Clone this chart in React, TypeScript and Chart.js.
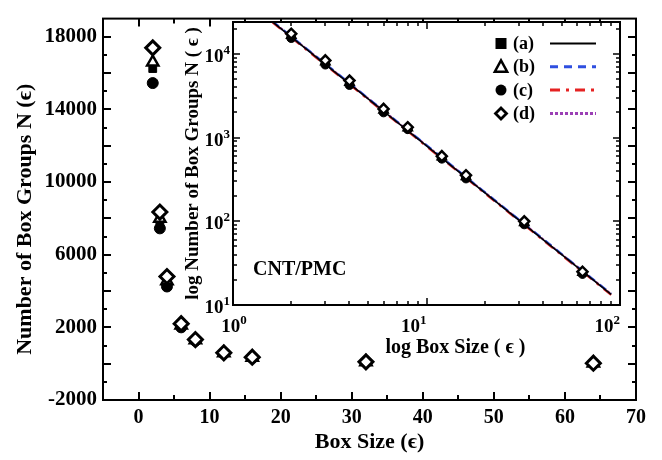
import React, { useEffect, useRef } from "react";
import { Chart, registerables } from "chart.js";

Chart.register(...registerables);

const FONT = '"Liberation Serif", "Times New Roman", "DejaVu Serif", serif';

// Box sizes (ε)
const boxSizes = [2, 3, 4, 6, 8, 12, 16, 32, 64];
// Number of box groups N(ε) for the four samples
const seriesA = [16250, 7800, 4400, 2050, 1280, 570, 330, 94, 24];
const seriesB = [16600, 8000, 4550, 2120, 1300, 585, 340, 96, 24.5];
const seriesC = [15450, 7450, 4250, 2000, 1260, 560, 325, 92, 23.5];
const seriesD = [17390, 8350, 4800, 2200, 1330, 600, 355, 100, 25];

// Fitted power-law lines in the inset (end points)
const fitX = [1.6, 90];
const fitA = [24100, 13.4];
const fitB = [24500, 13.6];
const fitC = [23700, 13.2];
const fitD = [24300, 13.5];

// Tick labels
const mainXLabels = [0, 10, 20, 30, 40, 50, 60, 70];
const mainYLabels = [-2000, 2000, 6000, 10000, 14000, 18000];
const insetXExp = [0, 1, 2];
const insetYExp = [1, 2, 3, 4];

const legendLabels = ["(a)", "(b)", "(c)", "(d)"];
const legendMarkers = ["rect", "triangle", "circle", "rectRot"];
const fitColors = ["#000000", "#2f4fe0", "#e52222", "#9b3fb5"];
const fitDashes: number[][] = [[], [8, 6], [10, 6, 3, 6], [3, 2]];

const pts = (ys: number[]) => boxSizes.map((x, i) => ({ x, y: ys[i] }));
const linePts = (ys: number[]) => fitX.map((x, i) => ({ x, y: ys[i] }));

function drawMarker(ctx: CanvasRenderingContext2D, style: string, x: number, y: number, r: number) {
  ctx.save();
  ctx.strokeStyle = "#000";
  ctx.fillStyle = "#000";
  ctx.beginPath();
  if (style === "rect") {
    ctx.rect(x - r, y - r, 2 * r, 2 * r);
    ctx.fill();
  } else if (style === "circle") {
    ctx.arc(x, y, r, 0, Math.PI * 2);
    ctx.fill();
  } else if (style === "triangle") {
    ctx.lineWidth = 2.5;
    ctx.moveTo(x, y - r);
    ctx.lineTo(x + r * 0.95, y + r * 0.75);
    ctx.lineTo(x - r * 0.95, y + r * 0.75);
    ctx.closePath();
    ctx.fillStyle = "#fff";
    ctx.fill();
    ctx.stroke();
  } else {
    ctx.lineWidth = 2.8;
    ctx.moveTo(x, y - r);
    ctx.lineTo(x + r, y);
    ctx.lineTo(x, y + r);
    ctx.lineTo(x - r, y);
    ctx.closePath();
    ctx.fillStyle = "#fff";
    ctx.fill();
    ctx.stroke();
  }
  ctx.restore();
}

const mainFrame = {
  id: "mainFrame",
  afterDraw(chart: any) {
    const { ctx, chartArea: a, scales } = chart;
    const xs = scales.x;
    const ys = scales.y;
    ctx.save();
    ctx.strokeStyle = "#000";
    ctx.lineWidth = 2;
    ctx.strokeRect(a.left, a.top, a.right - a.left, a.bottom - a.top);
    ctx.beginPath();
    for (let v = 0; v < 70; v += 5) {
      const px = Math.round(xs.getPixelForValue(v));
      const len = v % 10 === 0 ? 8 : 5;
      ctx.moveTo(px, a.bottom);
      ctx.lineTo(px, a.bottom - len);
      ctx.moveTo(px, a.top);
      ctx.lineTo(px, a.top + len);
    }
    for (let v = -1000; v < 19000; v += 1000) {
      const py = Math.round(ys.getPixelForValue(v));
      const len = v % 2000 === 0 ? 8 : 4;
      ctx.moveTo(a.left, py);
      ctx.lineTo(a.left + len, py);
      ctx.moveTo(a.right, py);
      ctx.lineTo(a.right - len, py);
    }
    ctx.stroke();

    // y-axis title (sits a little below the axis centre in the original)
    ctx.translate(25, (a.top + a.bottom) / 2 + 10);
    ctx.rotate(-Math.PI / 2);
    ctx.fillStyle = "#000";
    ctx.font = `bold 22px ${FONT}`;
    ctx.textAlign = "center";
    ctx.textBaseline = "middle";
    ctx.fillText("Number of Box Groups N (ϵ)", 0, 0);
    ctx.restore();
  },
};

function drawPow(ctx: CanvasRenderingContext2D, x: number, y: number, exp: number, align: string) {
  ctx.font = `bold 19px ${FONT}`;
  const wb = ctx.measureText("10").width;
  ctx.font = `bold 13px ${FONT}`;
  const ws = ctx.measureText(String(exp)).width;
  const total = wb + ws;
  const x0 = align === "right" ? x - total : x - total / 2;
  ctx.textAlign = "left";
  ctx.textBaseline = "alphabetic";
  ctx.fillStyle = "#000";
  ctx.font = `bold 19px ${FONT}`;
  ctx.fillText("10", x0, y);
  ctx.font = `bold 13px ${FONT}`;
  ctx.fillText(String(exp), x0 + wb, y - 8);
}

const insetDeco = {
  id: "insetDeco",
  beforeDatasetsDraw(chart: any) {
    const { ctx, chartArea: a } = chart;
    ctx.save();
    ctx.fillStyle = "#fff";
    ctx.fillRect(a.left, a.top, a.right - a.left, a.bottom - a.top);
    ctx.restore();
  },
  afterDraw(chart: any) {
    const { ctx, chartArea: a, scales } = chart;
    const xs = scales.x;
    const ys = scales.y;
    ctx.save();
    ctx.strokeStyle = "#000";
    ctx.lineWidth = 2;
    ctx.strokeRect(a.left, a.top, a.right - a.left, a.bottom - a.top);
    ctx.lineWidth = 1.5;
    ctx.beginPath();
    for (let d = 0; d <= 1; d++) {
      for (let m = 1; m <= 9; m++) {
        const v = m * Math.pow(10, d);
        if (v <= 1) continue;
        const px = Math.round(xs.getPixelForValue(v));
        const len = m === 1 ? 7 : 4;
        ctx.moveTo(px, a.bottom);
        ctx.lineTo(px, a.bottom - len);
        ctx.moveTo(px, a.top);
        ctx.lineTo(px, a.top + len);
      }
    }
    for (let d = 1; d <= 4; d++) {
      for (let m = 1; m <= 9; m++) {
        const v = m * Math.pow(10, d);
        if (v <= 10 || v >= ys.max) continue;
        const py = Math.round(ys.getPixelForValue(v));
        const len = m === 1 ? 7 : 4;
        ctx.moveTo(a.left, py);
        ctx.lineTo(a.left + len, py);
        ctx.moveTo(a.right, py);
        ctx.lineTo(a.right - len, py);
      }
    }
    ctx.stroke();

    // tick labels (powers of ten)
    insetYExp.forEach((e) => {
      const py = ys.getPixelForValue(Math.pow(10, e));
      drawPow(ctx, a.left - 3, py + 8, e, "right");
    });
    insetXExp.forEach((e, i) => {
      const px = xs.getPixelForValue(Math.pow(10, e));
      drawPow(ctx, i === 0 ? px + 1 : px, a.bottom + 27, e, i === 0 ? "center" : "right");
    });

    // x-axis title (placed right of centre, as in the original)
    ctx.fillStyle = "#000";
    ctx.font = `bold 20px ${FONT}`;
    ctx.textAlign = "center";
    ctx.textBaseline = "middle";
    ctx.fillText("log Box Size ( ϵ )", (a.left + a.right) / 2 + 29, a.bottom + 43);

    // legend
    const lx = a.right - 119;
    legendLabels.forEach((lab, i) => {
      const y = a.top + 21.5 + i * 23.3;
      drawMarker(ctx, legendMarkers[i], lx, y, legendMarkers[i] === "rectRot" ? 5.5 : legendMarkers[i] === "triangle" ? 6.5 : 5.5);
      ctx.fillStyle = "#000";
      ctx.font = `bold 18px ${FONT}`;
      ctx.textAlign = "left";
      ctx.textBaseline = "middle";
      ctx.fillText(lab, lx + 12, y + 1);
      ctx.save();
      ctx.strokeStyle = fitColors[i];
      ctx.lineWidth = i === 0 ? 2 : 3;
      ctx.setLineDash(fitDashes[i]);
      ctx.beginPath();
      ctx.moveTo(a.right - 70, y);
      ctx.lineTo(a.right - 24, y);
      ctx.stroke();
      ctx.restore();
    });

    // annotation
    ctx.fillStyle = "#000";
    ctx.font = `bold 20px ${FONT}`;
    ctx.textAlign = "left";
    ctx.textBaseline = "middle";
    ctx.fillText("CNT/PMC", a.left + 20, a.bottom - 35);
    ctx.restore();
  },
};

export default function App() {
  const mainRef = useRef<HTMLCanvasElement>(null);
  const insetRef = useRef<HTMLCanvasElement>(null);

  useEffect(() => {
    const tickFont = { family: FONT, size: 20, weight: "bold" as const };
    const mk = (label: string, ys: number[], style: string, r: number, bg: string, bw: number, order: number) => ({
      label,
      data: pts(ys),
      pointStyle: style,
      pointRadius: r,
      backgroundColor: bg,
      borderColor: "#000",
      borderWidth: bw,
      order,
    });

    const main = new Chart(mainRef.current as HTMLCanvasElement, {
      type: "scatter",
      data: {
        datasets: [
          mk("(d)", seriesD, "rectRot", 7, "#fff", 3, 0),
          mk("(b)", seriesB, "triangle", 6.5, "#fff", 2.5, 1),
          mk("(a)", seriesA, "rect", 5.5, "#000", 1, 2),
          mk("(c)", seriesC, "circle", 5.5, "#000", 1, 3),
        ] as any,
      },
      options: {
        animation: false,
        responsive: false,
        events: [],
        layout: { padding: { left: 8, right: 26, top: 5, bottom: 0 } },
        plugins: { legend: { display: false }, tooltip: { enabled: false } },
        scales: {
          x: {
            type: "linear",
            min: -5,
            max: 70,
            grid: { display: false, drawTicks: false },
            border: { display: false },
            afterBuildTicks: (s: any) => {
              s.ticks = mainXLabels.map((v) => ({ value: v }));
            },
            ticks: {
              autoSkip: false,
              maxRotation: 0,
              padding: 6,
              color: "#000",
              font: tickFont,
              callback: (v: any) => String(v),
            },
            title: { display: true, text: "Box Size (ϵ)", color: "#000", font: { family: FONT, size: 22, weight: "bold" } },
            afterFit: (s: any) => {
              s.height = 60;
            },
          },
          y: {
            type: "linear",
            min: -2000,
            max: 19000,
            grid: { display: false, drawTicks: false },
            border: { display: false },
            afterBuildTicks: (s: any) => {
              s.ticks = mainYLabels.map((v) => ({ value: v }));
            },
            ticks: {
              autoSkip: false,
              padding: 6,
              color: "#000",
              font: { family: FONT, size: 21, weight: "bold" },
              callback: (v: any) => String(v),
            },
            title: { display: false },
            afterFit: (s: any) => {
              s.width = 95;
            },
          },
        },
      } as any,
      plugins: [mainFrame],
    });

    const fitLine = (label: string, ys: number[], color: string, dash: number[], order: number, width: number) => ({
      label,
      data: linePts(ys),
      showLine: true,
      borderColor: color,
      borderWidth: width,
      borderDash: dash,
      pointRadius: 0,
      fill: false,
      order,
    });

    const inset = new Chart(insetRef.current as HTMLCanvasElement, {
      type: "scatter",
      data: {
        datasets: [
          mk("(d)", seriesD, "rectRot", 5, "#fff", 2.5, 0),
          mk("(b)", seriesB, "triangle", 5, "#fff", 2, 1),
          mk("(a)", seriesA, "rect", 4.5, "#000", 1, 2),
          mk("(c)", seriesC, "circle", 4.5, "#000", 1, 3),
          fitLine("fit (a)", fitA, fitColors[0], fitDashes[0], 4, 1.6),
          fitLine("fit (b)", fitB, fitColors[1], fitDashes[1], 5, 2.2),
          fitLine("fit (c)", fitC, fitColors[2], fitDashes[2], 6, 2.2),
          fitLine("fit (d)", fitD, fitColors[3], fitDashes[3], 7, 2.2),
        ] as any,
      },
      options: {
        animation: false,
        responsive: false,
        events: [],
        layout: { padding: { left: 3, right: 10, top: 14, bottom: 0 } },
        plugins: { legend: { display: false }, tooltip: { enabled: false } },
        scales: {
          x: {
            type: "logarithmic",
            min: 1,
            max: 100,
            grid: { display: false, drawTicks: false },
            border: { display: false },
            ticks: { display: false },
            title: { display: false },
            afterFit: (s: any) => {
              s.height = 59;
            },
          },
          y: {
            type: "logarithmic",
            min: 10,
            max: 24000,
            grid: { display: false, drawTicks: false },
            border: { display: false },
            ticks: { display: false },
            title: {
              display: true,
              text: "log Number of Box Groups N ( ϵ )",
              color: "#000",
              font: { family: FONT, size: 19, weight: "bold" },
            },
            afterFit: (s: any) => {
              s.width = 55;
            },
          },
        },
      } as any,
      plugins: [insetDeco],
    });

    return () => {
      main.destroy();
      inset.destroy();
    };
  }, []);

  return (
    <div style={{ position: "absolute", left: 0, top: 0, width: 662, height: 460, background: "#fff" }}>
      <canvas ref={mainRef} width={662} height={460} style={{ position: "absolute", left: 0, top: 0, width: 662, height: 460 }} />
      <canvas ref={insetRef} width={455} height={356} style={{ position: "absolute", left: 175, top: 8, width: 455, height: 356 }} />
    </div>
  );
}
